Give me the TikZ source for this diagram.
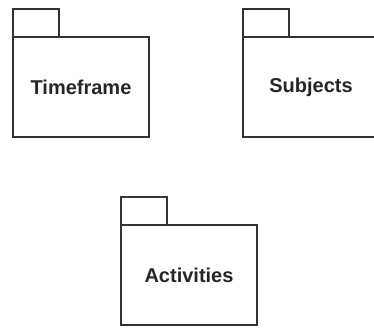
\documentclass[tikz,border=0pt]{standalone}
\usepackage{fontspec}
\setmainfont{Liberation Sans}
\begin{document}
\begin{tikzpicture}[x=1pt,y=-1pt,
  pkgline/.style={draw=black!80, line width=1.3pt},
  pkgtab/.style={pkgline, fill=white, minimum width=46pt, minimum height=28pt,
    anchor=north west, inner sep=0pt, outer sep=0pt},
  pkgbody/.style={pkgline, fill=white, minimum width=136pt, minimum height=100pt,
    anchor=north west, inner sep=0pt, outer sep=0pt,
    font=\fontsize{20}{24}\selectfont\bfseries, text=black!85}]
\useasboundingbox (0,0) rectangle (374,327);
\clip (0,0) rectangle (374,327);
% Timeframe package
\node[pkgtab]  (timeTab)  at (13,9)  {};
\node[pkgbody] (timeBody) at (13,37) {Timeframe};
% Subjects package (runs past the right edge)
\node[pkgtab]  (subjTab)  at (243,9)  {};
\node[pkgbody] (subjBody) at (243,37) {Subjects};
% Activities package
\node[pkgtab]  (actTab)   at (121,197) {};
\node[pkgbody] (actBody)  at (121,225) {Activities};
\end{tikzpicture}
\end{document}
